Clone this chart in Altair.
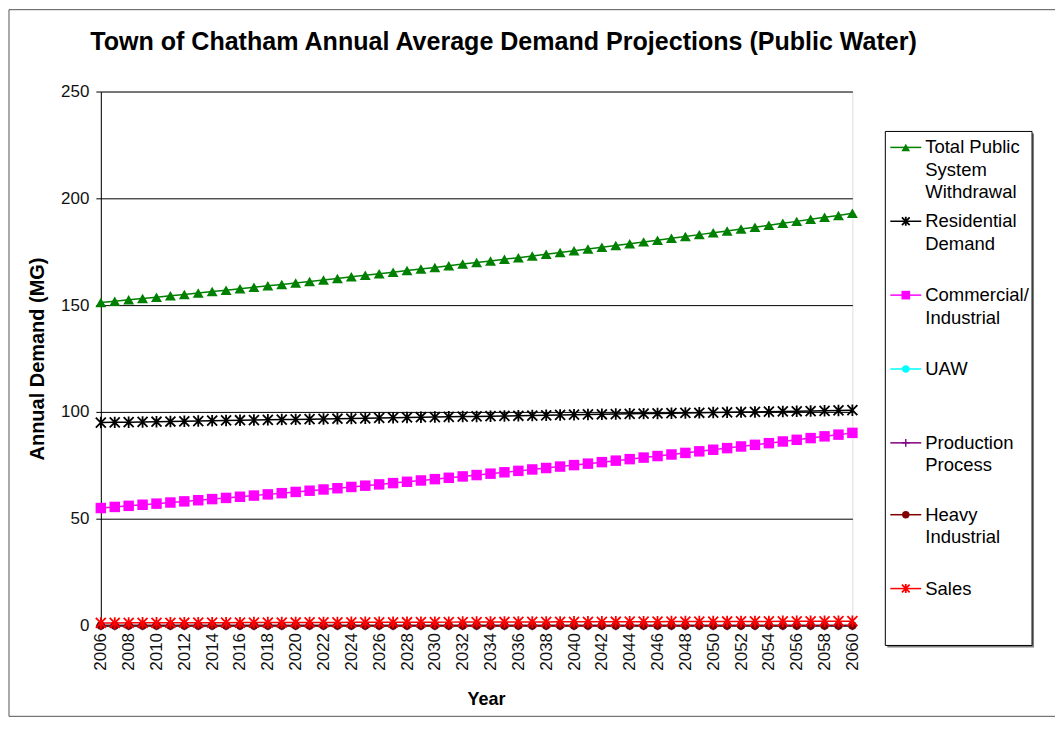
import altair as alt
import pandas as pd

TITLE = "Town of Chatham Annual Average Demand Projections (Public Water)"
FONT = "Liberation Sans"

YEARS = list(range(2006, 2061))
YEAR_TICKS = [2006, 2008, 2010, 2012, 2014, 2016, 2018, 2020, 2022, 2024, 2026, 2028,
              2030, 2032, 2034, 2036, 2038, 2040, 2042, 2044, 2046, 2048, 2050, 2052,
              2054, 2056, 2058, 2060]
Y_TICKS = [0, 50, 100, 150, 200, 250]

TOTAL = [151.2, 151.8, 152.5, 153.1, 153.7, 154.4, 155.0, 155.7, 156.4, 157.0,
         157.7, 158.4, 159.1, 159.7, 160.4, 161.1, 161.8, 162.5, 163.3, 164.0,
         164.7, 165.4, 166.2, 166.9, 167.6, 168.4, 169.2, 169.9, 170.7, 171.5,
         172.2, 173.0, 173.8, 174.6, 175.4, 176.3, 177.1, 177.9, 178.7, 179.6,
         180.4, 181.3, 182.1, 183.0, 183.9, 184.7, 185.6, 186.5, 187.4, 188.3,
         189.2, 190.2, 191.1, 192.0, 193.0]
RESIDENTIAL = [95.0, 95.1, 95.2, 95.3, 95.4, 95.5, 95.6, 95.7, 95.9, 96.0,
               96.1, 96.2, 96.3, 96.4, 96.5, 96.6,
               96.7, 96.8, 96.9, 97.0, 97.2,
               97.3, 97.4, 97.5, 97.6, 97.7,
               97.8, 97.9, 98.0, 98.1, 98.2,
               98.3, 98.4, 98.6, 98.7, 98.8,
               98.9, 99.0, 99.1, 99.2, 99.3,
               99.4, 99.5, 99.6, 99.7, 99.8,
               99.9, 100.0, 100.1, 100.2, 100.3,
               100.4, 100.5, 100.7, 100.8]
COMMERCIAL = [55.00, 55.51, 56.02, 56.53, 57.05, 57.58, 58.11, 58.64, 59.18, 59.73,
              60.28, 60.83, 61.39, 61.96, 62.53, 63.10, 63.68, 64.27, 64.86, 65.46,
              66.06, 66.67, 67.28, 67.90, 68.52, 69.15, 69.79, 70.43, 71.08, 71.73,
              72.39, 73.06, 73.73, 74.41, 75.09, 75.78, 76.48, 77.18, 77.89, 78.61,
              79.33, 80.06, 80.80, 81.54, 82.29, 83.05, 83.81, 84.58, 85.36, 86.15,
              86.94, 87.74, 88.55, 89.36, 90.18]
UAW = [0.0] * 55
PRODUCTION = [0.0] * 55
HEAVY = [0.0] * 55
SALES = [1.20, 1.22, 1.23, 1.25, 1.26, 1.28, 1.29, 1.31, 1.32, 1.34,
         1.35, 1.37, 1.38, 1.40, 1.41, 1.43, 1.44, 1.46, 1.47, 1.49,
         1.50, 1.52, 1.53, 1.55, 1.56, 1.58, 1.59, 1.61, 1.62, 1.64,
         1.65, 1.67, 1.68, 1.70, 1.71, 1.73, 1.74, 1.76, 1.77, 1.79,
         1.80, 1.82, 1.83, 1.85, 1.86, 1.88, 1.89, 1.91, 1.92, 1.94,
         1.95, 1.97, 1.98, 2.00, 2.01]

SERIES_NAMES = ["Total Public System Withdrawal", "Residential Demand",
                "Commercial/ Industrial", "UAW", "Production Process",
                "Heavy Industrial", "Sales"]
SERIES_VALUES = [TOTAL, RESIDENTIAL, COMMERCIAL, UAW, PRODUCTION, HEAVY, SALES]
LEGEND_LINES = [["Total Public", "System", "Withdrawal"], ["Residential", "Demand"],
                ["Commercial/", "Industrial"], ["UAW"], ["Production", "Process"],
                ["Heavy", "Industrial"], ["Sales"]]

ASTERISK = "M-1,-1L1,1M-1,1L1,-1M0,-1.15L0,1.15"
PLUS = "M0,-1L0,1M-1,0L1,0"
# color, shape, filled, plot size, legend size, stroke width
STYLES = [
    ("#008000", "triangle-up", True, 120, 75, 1),
    ("#000000", ASTERISK, False, 100, 60, 1.8),
    ("#FF00FF", "square", True, 110, 75, 1),
    ("#00FFFF", "circle", True, 75, 55, 1),
    ("#800080", PLUS, False, 90, 60, 1.4),
    ("#800000", "circle", True, 75, 55, 1),
    ("#FF0000", ASTERISK, False, 100, 60, 1.8),
]

W, H = 753, 535

X = alt.X("Year:Q",
          scale=alt.Scale(domain=[2006, 2060], nice=False, zero=False),
          axis=alt.Axis(values=YEAR_TICKS, format="d", labelAngle=270, labelAlign="right",
                        labelBaseline="middle", labelPadding=7, labelOverlap=False,
                        labelFlush=False, ticks=False, grid=False, domainColor="#000000",
                        labelFont=FONT, labelFontSize=17, labelColor="#111111",
                        title="Year", titleFont=FONT, titleFontSize=18,
                        titleFontWeight="bold", titleColor="#000000",
                        titleX=386, titleY=74, titleAlign="center",
                        titleBaseline="middle"))
Y = alt.Y("Demand:Q",
          scale=alt.Scale(domain=[0, 250], nice=False),
          axis=alt.Axis(values=Y_TICKS, grid=True, gridColor="#000000", gridWidth=1,
                        domainColor="#000000", tickColor="#000000", tickSize=5,
                        labelPadding=7, labelFont=FONT, labelFontSize=17,
                        labelColor="#111111",
                        title="Annual Demand (MG)", titleFont=FONT, titleFontSize=20,
                        titleFontWeight="bold", titleColor="#000000",
                        titleAngle=270, titleX=-63, titleY=267.5,
                        titleAlign="center", titleBaseline="middle"))

DECOR = pd.DataFrame({"k": [0]})
layers = []

# outer chart border (left, top, bottom)
layers.append(alt.Chart(DECOR).mark_rule(color="#555555", strokeWidth=1).encode(
    x=alt.value(-92), x2=alt.value(956), y=alt.value(-82)))
layers.append(alt.Chart(DECOR).mark_rule(color="#555555", strokeWidth=1).encode(
    x=alt.value(-92), y=alt.value(-82), y2=alt.value(626)))
layers.append(alt.Chart(DECOR).mark_rule(color="#555555", strokeWidth=1).encode(
    x=alt.value(-92), x2=alt.value(956), y=alt.value(626)))

# data series
for name, vals, (color, shape, filled, size, lsize, sw) in zip(SERIES_NAMES, SERIES_VALUES, STYLES):
    df = pd.DataFrame({"Year": YEARS, "Demand": vals, "Series": name})
    base = alt.Chart(df).encode(x=X, y=Y)
    layers.append(base.mark_line(color=color, strokeWidth=1.5))
    if filled:
        layers.append(base.mark_point(shape=shape, filled=True, fill=color, color=color,
                                      size=size, opacity=1, strokeWidth=0))
    else:
        layers.append(base.mark_point(shape=shape, filled=False, color=color,
                                      size=size, opacity=1, strokeWidth=sw))

# legend box
layers.append(alt.Chart(DECOR).mark_rect(color="#808080").encode(
    x=alt.value(788), x2=alt.value(935), y=alt.value(42), y2=alt.value(557)))
layers.append(alt.Chart(DECOR).mark_rect(fill="#FFFFFF", stroke="#000000", strokeWidth=1).encode(
    x=alt.value(786), x2=alt.value(933), y=alt.value(40), y2=alt.value(555)))

ENTRY_Y = [56, 130, 204, 278, 352, 424, 498]
LINE_STEP = 22.5
for lines, (color, shape, filled, size, lsize, sw), ey in zip(LEGEND_LINES, STYLES, ENTRY_Y):
    layers.append(alt.Chart(DECOR).mark_rule(color=color, strokeWidth=1.5).encode(
        x=alt.value(791), x2=alt.value(822), y=alt.value(ey)))
    if filled:
        layers.append(alt.Chart(DECOR).mark_point(shape=shape, filled=True, fill=color,
                                                  color=color, size=lsize, opacity=1,
                                                  strokeWidth=0).encode(
            x=alt.value(806.5), y=alt.value(ey)))
    else:
        layers.append(alt.Chart(DECOR).mark_point(shape=shape, filled=False, color=color,
                                                  size=lsize, opacity=1,
                                                  strokeWidth=sw).encode(
            x=alt.value(806.5), y=alt.value(ey)))
    for i, txt in enumerate(lines):
        layers.append(alt.Chart(DECOR).mark_text(text=txt, font=FONT, fontSize=18.5,
                                                 color="#000000", align="left",
                                                 baseline="middle").encode(
            x=alt.value(826), y=alt.value(ey + i * LINE_STEP)))

# title
layers.append(alt.Chart(DECOR).mark_text(text=TITLE, font=FONT, fontSize=25.1,
                                         fontWeight="bold", color="#000000",
                                         align="center", baseline="alphabetic").encode(
    x=alt.value(403.5), y=alt.value(-42)))

chart = alt.layer(*layers).properties(
    width=W, height=H, padding=0
).configure_view(stroke="#808080", strokeWidth=1).configure(background="#FFFFFF")

chart.save("out.html", embed_options={"renderer": "svg", "actions": False})
